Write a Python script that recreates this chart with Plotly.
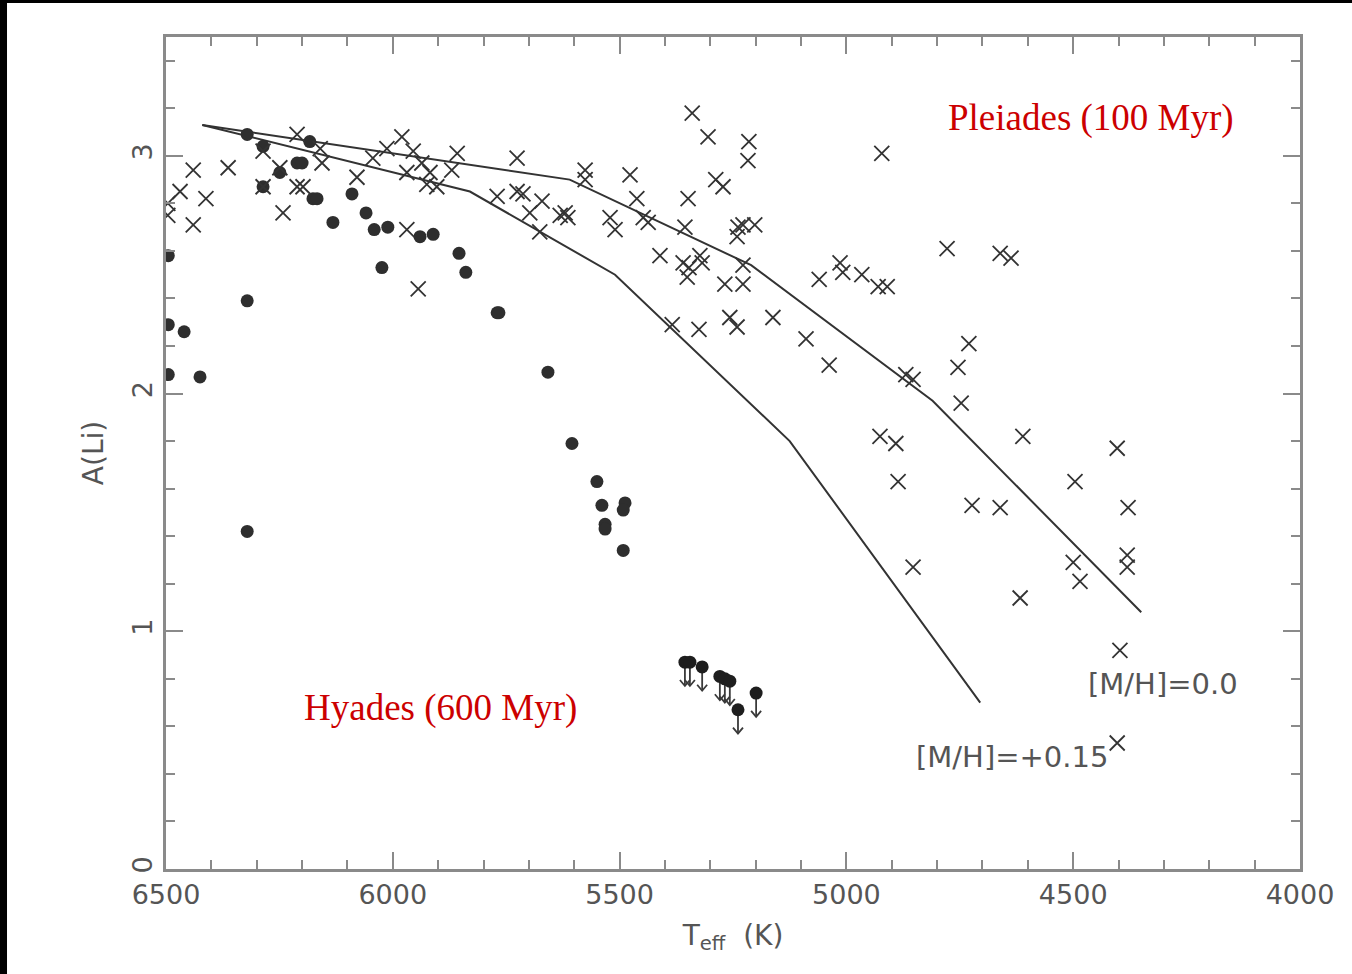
import plotly.graph_objects as go

# Lithium abundance vs effective temperature: Pleiades (crosses) and Hyades (dots)

# Pleiades (100 Myr) stars
pleiades_teff = [
    6496, 6496, 6469, 6440, 6440, 6412, 6363, 6286, 6286, 6249,
    6211, 6160, 6156, 6211, 6198, 6242, 6079, 6044, 6013, 5980,
    5955, 5936, 5969, 5918, 5925, 5903, 5870, 5858, 5969, 5944,
    5770, 5726, 5713, 5726, 5671, 5698, 5676, 5631, 5620, 5614,
    5576, 5576, 5521, 5510, 5477, 5462, 5448, 5437, 5411, 5356,
    5349, 5360, 5347, 5351, 5323, 5318, 5340, 5305, 5215, 5217,
    5288, 5272, 5239, 5228, 5202, 5241, 5268, 5228, 5228, 5384,
    5325, 5257, 5241, 5162, 5089, 5060, 5014, 5008, 4966, 4930,
    4910, 4922, 4778, 4661, 4637, 5038, 4869, 4853, 4730,
    4754, 4747, 4926, 4891, 4886, 4611, 4403, 4496, 4723, 4661,
    4379, 4853, 4500, 4485, 4617, 4381, 4381, 4397, 4403,
]
pleiades_ali = [
    2.80, 2.75, 2.85, 2.94, 2.71, 2.82, 2.95, 3.02, 2.87, 2.95,
    3.09, 3.03, 2.97, 2.87, 2.87, 2.76, 2.91, 2.99, 3.03, 3.08,
    3.02, 2.97, 2.93, 2.93, 2.88, 2.87, 2.94, 3.01, 2.69, 2.44,
    2.83, 2.85, 2.84, 2.99, 2.81, 2.76, 2.68, 2.75, 2.76, 2.74,
    2.94, 2.90, 2.74, 2.69, 2.92, 2.82, 2.74, 2.72, 2.58, 2.70,
    2.82, 2.55, 2.53, 2.49, 2.58, 2.55, 3.18, 3.08, 3.06, 2.98,
    2.90, 2.87, 2.70, 2.71, 2.71, 2.66, 2.46, 2.46, 2.54, 2.29,
    2.27, 2.32, 2.28, 2.32, 2.23, 2.48, 2.55, 2.51, 2.50, 2.45,
    2.45, 3.01, 2.61, 2.59, 2.57, 2.12, 2.08, 2.06, 2.21,
    2.11, 1.96, 1.82, 1.79, 1.63, 1.82, 1.77, 1.63, 1.53, 1.52,
    1.52, 1.27, 1.29, 1.21, 1.14, 1.32, 1.27, 0.92, 0.53,
]

# Hyades (600 Myr) detections
hyades_teff = [
    6495, 6495, 6495, 6460, 6425, 6321, 6286, 6211, 6200, 6249,
    6286, 6183, 6176, 6167, 6090, 6059, 6132, 6041, 6011, 5940,
    5911, 5854, 5839, 6024, 6321, 5770, 5766, 5658, 5605, 5550,
    5539, 5488, 5492, 5532, 5532, 5492, 6321,
]
hyades_ali = [
    2.58, 2.29, 2.08, 2.26, 2.07, 3.09, 3.04, 2.97, 2.97, 2.93,
    2.87, 3.06, 2.82, 2.82, 2.84, 2.76, 2.72, 2.69, 2.70, 2.66,
    2.67, 2.59, 2.51, 2.53, 2.39, 2.34, 2.34, 2.09, 1.79, 1.63,
    1.53, 1.54, 1.51, 1.45, 1.43, 1.34, 1.42,
]

# Hyades upper limits
hyades_lim_teff = [5356, 5345, 5318, 5279, 5268, 5257, 5239, 5199]
hyades_lim_ali = [0.87, 0.87, 0.85, 0.81, 0.80, 0.79, 0.67, 0.74]
limit_drop = 0.10      # length of the upper-limit arrow (dex)
head_half_width = 11   # arrowhead half width (K)
head_height = 0.025    # arrowhead height (dex)

# Model depletion curves
model_00_teff = [6420, 5610, 5210, 4810, 4350]
model_00_ali = [3.13, 2.90, 2.54, 1.97, 1.08]
model_015_teff = [6420, 5830, 5510, 5125, 4705]
model_015_ali = [3.13, 2.85, 2.50, 1.80, 0.70]

ink = "#333333"
label_grey = "#555555"
axis_grey = "#8a8a8a"
red = "#cc0000"

fig = go.Figure()

fig.add_trace(go.Scatter(
    x=model_00_teff, y=model_00_ali, mode="lines",
    line=dict(color=ink, width=2), showlegend=False, hoverinfo="skip"))
fig.add_trace(go.Scatter(
    x=model_015_teff, y=model_015_ali, mode="lines",
    line=dict(color=ink, width=2), showlegend=False, hoverinfo="skip"))

# downward arrows marking the upper limits
arrow_x, arrow_y = [], []
for t, a in zip(hyades_lim_teff, hyades_lim_ali):
    tip = a - limit_drop
    arrow_x += [t, t, None, t - head_half_width, t, t + head_half_width, None]
    arrow_y += [a, tip, None, tip + head_height, tip, tip + head_height, None]
fig.add_trace(go.Scatter(
    x=arrow_x, y=arrow_y, mode="lines", connectgaps=False,
    line=dict(color="#3a3a3a", width=1.8), showlegend=False, hoverinfo="skip"))

fig.add_trace(go.Scatter(
    x=hyades_teff, y=hyades_ali, mode="markers",
    marker=dict(symbol="circle", size=13, color="#2e2e2e", line=dict(width=0)),
    showlegend=False))
fig.add_trace(go.Scatter(
    x=hyades_lim_teff, y=hyades_lim_ali, mode="markers",
    marker=dict(symbol="circle", size=13, color="#1e1e1e", line=dict(width=0)),
    showlegend=False))

fig.add_trace(go.Scatter(
    x=pleiades_teff, y=pleiades_ali, mode="markers",
    marker=dict(symbol="x-thin", size=15, color=ink,
                line=dict(color=ink, width=1.8)),
    showlegend=False))

annotations = [
    dict(x=4461, y=3.16, xref="x", yref="y", text="Pleiades (100 Myr)",
         showarrow=False, font=dict(family="Liberation Serif", size=37, color=red)),
    dict(x=5894, y=0.676, xref="x", yref="y", text="Hyades (600 Myr)",
         showarrow=False, font=dict(family="Liberation Serif", size=37, color=red)),
    dict(x=4302, y=0.78, xref="x", yref="y", text="[M/H]=0.0",
         showarrow=False, font=dict(family="DejaVu Sans", size=29, color=label_grey)),
    dict(x=4635, y=0.47, xref="x", yref="y", text="[M/H]=+0.15",
         showarrow=False, font=dict(family="DejaVu Sans", size=29, color=label_grey)),
]

axis_common = dict(
    showline=True, linecolor=axis_grey, linewidth=3, mirror="ticks",
    ticks="inside", ticklen=17, tickwidth=2, tickcolor=axis_grey,
    showgrid=False, zeroline=False,
    tickfont=dict(family="DejaVu Sans", size=27, color=label_grey),
    title_font=dict(family="DejaVu Sans", size=28, color=label_grey),
)

fig.update_xaxes(
    range=[6500, 4000], tickmode="linear", tick0=4000, dtick=500,
    minor=dict(ticks="inside", ticklen=9, tickwidth=2, tickcolor=axis_grey, dtick=100),
    title_text="T<sub>eff</sub>  (K)", title_standoff=16,
    **axis_common)
fig.update_yaxes(
    range=[0, 3.5], tickmode="linear", tick0=0, dtick=1, tickangle=-90,
    minor=dict(ticks="inside", ticklen=9, tickwidth=2, tickcolor=axis_grey, dtick=0.2),
    title_text="A(Li)", title_standoff=16,
    **axis_common)

# black frame strips along the left and top edges of the page
fig.update_layout(shapes=[
    dict(type="rect", xref="paper", yref="paper", x0=-0.1464, x1=-0.1402,
         y0=-0.13, y1=1.05, fillcolor="black", line=dict(width=0), layer="above"),
    dict(type="rect", xref="paper", yref="paper", x0=-0.1464, x1=1.05,
         y0=1.0409, y1=1.05, fillcolor="black", line=dict(width=0), layer="above"),
])

fig.update_layout(
    width=1352, height=974, autosize=False,
    margin=dict(l=166, r=52, t=37, b=105),
    paper_bgcolor="white", plot_bgcolor="white",
    annotations=annotations,
    font=dict(family="DejaVu Sans", color=label_grey),
)

fig.write_html("out.html")
